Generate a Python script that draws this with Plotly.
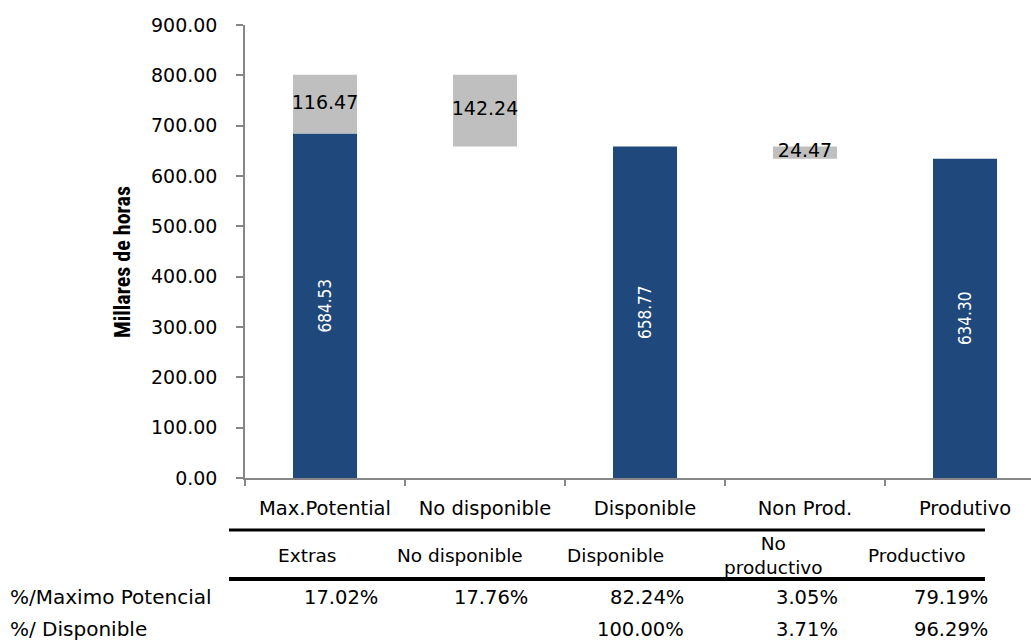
import plotly.graph_objects as go

# Waterfall of hours (thousands): potential -> available -> productive
categories = ["Max.Potential", "No disponible", "Disponible", "Non Prod.", "Produtivo"]
blue_values = [684.53, None, 658.77, None, 634.30]
gray_values = [116.47, 142.24, None, 24.47, None]

# Gray segments float on top of the blue total of the step they belong to
gray_bases = [blue_values[0], blue_values[2], None, blue_values[4], None]

# Summary table under the chart
table_headers = ["Extras", "No disponible", "Disponible", "No<br>productivo", "Productivo"]
row_labels = ["%/Maximo Potencial", "%/ Disponible"]
pct_maximo = ["17.02%", "17.76%", "82.24%", "3.05%", "79.19%"]
pct_disponible = ["", "", "100.00%", "3.71%", "96.29%"]

BLUE = "#1F497D"
GRAY = "#BFBFBF"
AXIS = "#868686"
FONT = "DejaVu Sans, Verdana, sans-serif"
NARROW = "Liberation Sans Narrow, DejaVu Sans Condensed, Roboto Condensed, Roboto, sans-serif"

W, H = 1031, 641
L, R, T, B = 245, 1031, 25, 478


def px(x):
    return (x - L) / (R - L)


def py(y):
    return (B - y) / (B - T)


fig = go.Figure()

fig.add_trace(go.Bar(
    x=categories, y=blue_values, marker=dict(color=BLUE, line=dict(width=0)),
    width=0.4,
    texttemplate="%{y:.2f}", textposition="inside", insidetextanchor="middle",
    textangle=-90, textfont=dict(color="white", size=17, family=NARROW),
    showlegend=False, hoverinfo="skip",
))

fig.add_trace(go.Bar(
    x=categories, y=gray_values, base=gray_bases,
    marker=dict(color=GRAY, line=dict(width=0)), width=0.4,
    showlegend=False, hoverinfo="skip",
))

# Labels centred on each gray segment
lab_x, lab_y, lab_t = [], [], []
for c, v, b in zip(categories, gray_values, gray_bases):
    if v is not None:
        lab_x.append(c)
        lab_y.append(b + v / 2)
        lab_t.append(f"{v:.2f}")
fig.add_trace(go.Scatter(
    x=lab_x, y=lab_y, text=lab_t, mode="text",
    textfont=dict(color="black", size=19, family=FONT),
    showlegend=False, hoverinfo="skip", cliponaxis=False,
))

annotations = []
shapes = []

# Y axis title
annotations.append(dict(
    text="<b>Millares de horas</b>", x=px(122), y=py(262), xref="paper", yref="paper",
    textangle=-90, showarrow=False, xanchor="center", yanchor="middle",
    font=dict(size=22, family="Liberation Sans Narrow, Roboto Condensed, Roboto, sans-serif", color="black"),
))

# Table rules
shapes.append(dict(type="line", xref="paper", yref="paper",
                   x0=px(229), x1=px(985), y0=py(530), y1=py(530),
                   line=dict(color="black", width=3)))
shapes.append(dict(type="line", xref="paper", yref="paper",
                   x0=px(229), x1=px(985), y0=py(579), y1=py(579),
                   line=dict(color="black", width=4)))

header_x = [307, 460, 615, 773, 917]
value_right = [380, 530, 686, 840, 990]

for hx, h in zip(header_x, table_headers):
    annotations.append(dict(
        text=h, x=px(hx), y=py(555), xref="paper", yref="paper", showarrow=False,
        xanchor="center", yanchor="middle", align="center",
        font=dict(size=18.5, family=FONT, color="black"),
    ))

row_y = [597, 629]
for ry, lab, vals in zip(row_y, row_labels, [pct_maximo, pct_disponible]):
    annotations.append(dict(
        text=lab, x=px(8), y=py(ry), xref="paper", yref="paper", showarrow=False,
        xanchor="left", yanchor="middle", font=dict(size=20, family=FONT, color="black"),
    ))
    for vx, v in zip(value_right, vals):
        if v:
            annotations.append(dict(
                text=v, x=px(vx), y=py(ry), xref="paper", yref="paper", showarrow=False,
                xanchor="right", yanchor="middle",
                font=dict(size=19.5, family=FONT, color="black"),
            ))

fig.update_layout(
    width=W, height=H,
    margin=dict(l=L, r=W - R, t=T, b=H - B),
    paper_bgcolor="white", plot_bgcolor="white",
    barmode="overlay", bargap=0.6,
    annotations=annotations, shapes=shapes,
    xaxis=dict(
        type="category", categoryorder="array", categoryarray=categories,
        range=[-0.5, -0.5 + (R - L) / 160], tickson="boundaries",
        ticks="outside", ticklen=6, tickcolor=AXIS, tickwidth=1.5,
        showline=True, linecolor=AXIS, linewidth=1.5, showgrid=False,
        tickfont=dict(size=19.5, family=FONT, color="black"), ticklabelstandoff=12,
    ),
    yaxis=dict(
        range=[0, 900], dtick=100, tickformat=".2f",
        ticks="outside", ticklen=7, tickcolor=AXIS, tickwidth=1.5,
        showline=True, linecolor=AXIS, linewidth=1.5, showgrid=False, zeroline=False,
        tickfont=dict(size=19, family=FONT, color="black"), ticklabelstandoff=15,
    ),
)

fig.write_html("out.html")
